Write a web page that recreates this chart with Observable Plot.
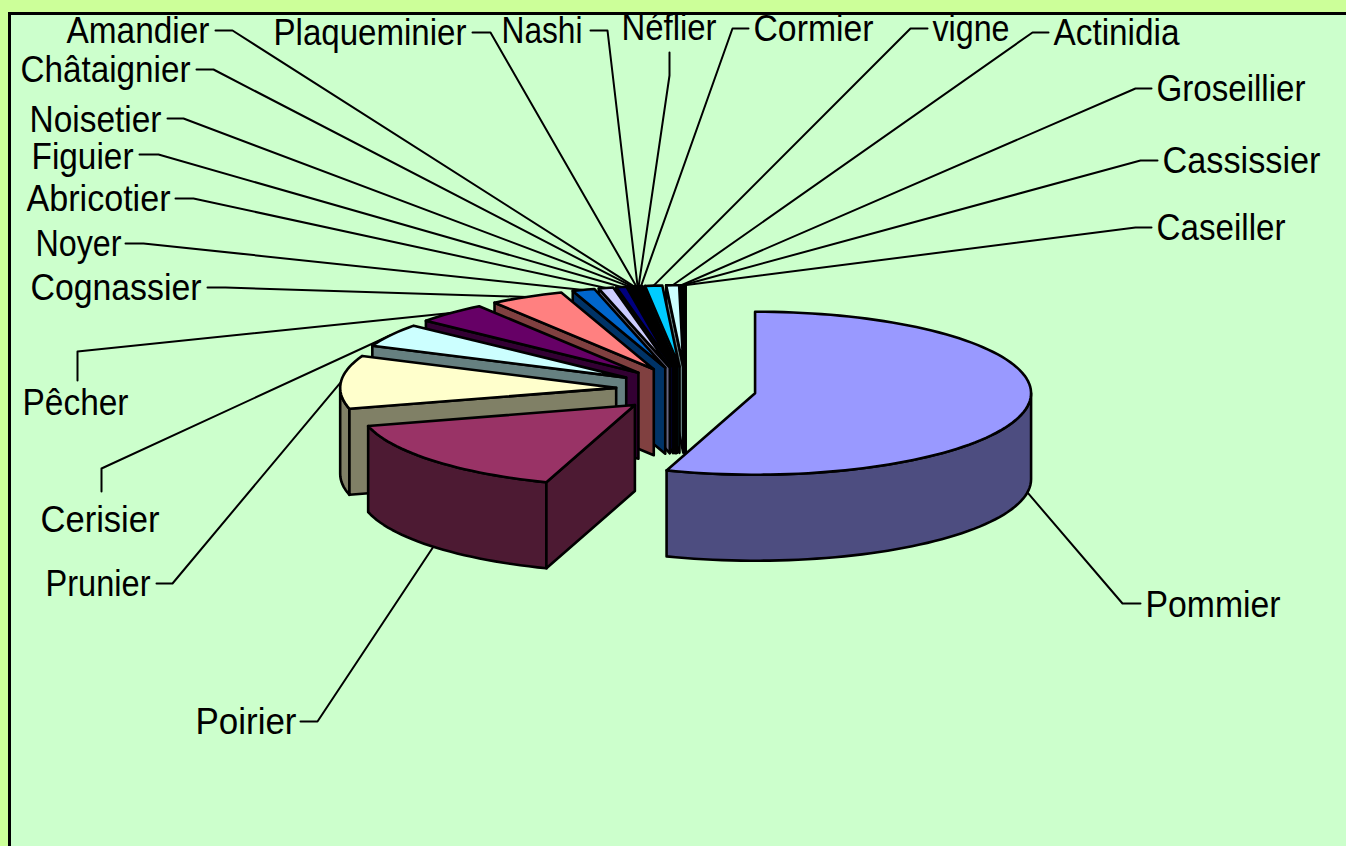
<!DOCTYPE html>
<html>
<head>
<meta charset="utf-8">
<script src="https://cdn.jsdelivr.net/npm/d3@7"></script>
<script src="https://cdn.jsdelivr.net/npm/@observablehq/plot@0.6"></script>
<style>
html,body{margin:0;padding:0;background:#CCFF99;overflow:hidden}
svg{display:block}
</style>
</head>
<body>
<div id="chart"></div>
<script>
// --- data: share of each species, in percent
const species = ["Pommier","Poirier","Prunier","Cerisier","Pêcher","Cognassier","Noyer","Abricotier","Figuier","Noisetier","Châtaignier","Amandier","Plaqueminier","Nashi","Néflier","Cormier","vigne","Actinidia","Groseillier","Cassissier","Caseiller"];
const shares = [55.2,15.67,10.55,4.6,4.2,4.35,1.3,0.85,0.6,0.17,0.05,0.14,0.07,0.05,0.05,0.17,1.0,0.75,0.05,0.05,0.14];
const topColors = ["#9999FF","#993366","#FFFFCC","#CCFFFF","#660066","#FF8080","#0066CC","#CCCCFF","#000080","#FF00FF","#FFFF00","#00FFFF","#800080","#800000","#008080","#0000FF","#00CCFF","#CCFFFF","#CCFFCC","#FFFF99","#99CCFF"];
const sideColors = ["#4D4D80","#4D1A33","#808066","#668080","#330033","#804040","#003366","#666680","#000040","#800080","#808000","#008080","#400040","#400000","#004040","#000080","#006680","#668080","#668066","#80804D","#4D6680"];

// --- label placement: text left edge, text middle, text width, elbow(s) of the leader
const labelX = [1145,195,45,40,22,30,35,26,31,29,20,66,273,501,621,753,932,1053,1156,1162,1156];
const labelY = [605,722,584,520,403,288,244,199,157,120,70,31,33,31,28,29,29,33,89,161,228];
const labelW = [135,101,105,119,106,171,86,144,102,132,170,143,193,81,95,120,77,126,149,158,129];
const leaderStart = [[1140,603],[300,721],[156,583],[101,491],[77,380],[207,287],[125,243],[175,198],[139,154],[167,118],[196,69],[215,30],[472,32],[590,30],[669,52],[748,28],[927,28],[1048,32],[1151,88],[1157,160],[1151,227]];
const leaderElbow = [[1122,603],[317,721],[172,583],[101,468],[77,351],[225,287],[143,243],[193,198],[158,154],[183,118],[213,69],[232,30],[490,32],[607,30],[669,75],[732,28],[910,28],[1032,32],[1135,88],[1140,160],[1135,227]];

// --- 3D pie geometry
const pie = {cx:685.5, cy:389, rx:276, ry:81.5, depth:86, ex:70, ey:22.8};
const total = d3.sum(shares);
let acc = 0;
const slices = shares.map((v,i)=>{
  const a0 = acc/total*2*Math.PI; acc += v;
  const a1 = acc/total*2*Math.PI;
  const mid = (a0+a1)/2;
  return {i, a0, a1, mid, ax: pie.cx+pie.ex*Math.sin(mid), ay: pie.cy-pie.ey*Math.cos(mid)};
});
const rim = (s,a,dz=0)=>[s.ax+pie.rx*Math.sin(a), s.ay-pie.ry*Math.cos(a)+dz];
const arc = (s,a0,a1,dz=0)=>{
  const n = Math.max(1,Math.ceil((a1-a0)/(Math.PI/90)));
  return d3.range(n+1).map(k=>rim(s,a0+(a1-a0)*k/n,dz));
};

// polygons are listed back to front
const polys = [];
let pid = 0;
const addPoly = (pts,fill)=>{const id=pid++; pts.forEach(([x,y])=>polys.push({id,x,y,fill}));};
[...slices].reverse().forEach(s=>{
  const top = topColors[s.i], side = sideColors[s.i];
  const d = pie.depth;
  // outer wall, front half only
  const w0 = Math.max(s.a0,Math.PI/2), w1 = Math.min(s.a1,1.5*Math.PI);
  if (w1>w0) addPoly([...arc(s,w0,w1),...arc(s,w0,w1,d).reverse()],side);
  // radial wall of the leading edge
  if (Math.sin(s.a0)<0) {
    const p = rim(s,s.a0);
    addPoly([[s.ax,s.ay],p,[p[0],p[1]+d],[s.ax,s.ay+d]],side);
  }
  if (Math.sin(s.a1)>0) {
    const p = rim(s,s.a1);
    addPoly([[s.ax,s.ay],p,[p[0],p[1]+d],[s.ax,s.ay+d]],side);
  }
  // top face
  addPoly([[s.ax,s.ay],...arc(s,s.a0,s.a1)],top);
});

// leader lines: from the label through the elbow to the slice's rim at mid-angle
const leaders = [];
slices.forEach(s=>{
  const front = Math.cos(s.mid)<0 && s.i<2;
  const end = rim(s,s.mid,front?pie.depth:0);
  [leaderStart[s.i],leaderElbow[s.i],end].forEach(([x,y])=>leaders.push({id:s.i,x,y}));
});
const labels = species.map((name,i)=>({name,x:labelX[i],y:labelY[i],w:labelW[i]}));
const frame = [{x1:9.5,x2:1400,y1:13.5,y2:900}];

const chart = Plot.plot({
  width:1346, height:846, margin:0,
  style:{background:"transparent",overflow:"hidden"},
  x:{domain:[0,1346],range:[0,1346],axis:null},
  y:{domain:[0,846],range:[0,846],axis:null},
  color:{type:"identity"},
  marks:[
    Plot.rect(frame,{x1:"x1",x2:"x2",y1:"y1",y2:"y2",fill:"#CCFFCC",stroke:"#000",strokeWidth:3,clip:false}),
    Plot.line(leaders,{x:"x",y:"y",z:"id",stroke:"#000",strokeWidth:2,curve:"linear"}),
    Plot.line(polys,{x:"x",y:"y",z:"id",fill:"fill",stroke:"#000",strokeWidth:2.6,strokeLinejoin:"round",curve:"linear-closed"}),
    Plot.text(labels,{x:"x",y:"y",text:"name",textAnchor:"start",lineAnchor:"middle",fontSize:36,fontFamily:"Liberation Sans",fill:"#000"})
  ]
});
// the reference's type is slightly condensed: fit each label to its measured width
const byName = new Map(labels.map(d=>[d.name,d.w]));
chart.querySelectorAll("text").forEach(t=>{
  const w = byName.get(t.textContent);
  if (w) { t.setAttribute("textLength",w); t.setAttribute("lengthAdjust","spacingAndGlyphs"); }
});
document.getElementById("chart").appendChild(chart);
</script>
</body>
</html>
